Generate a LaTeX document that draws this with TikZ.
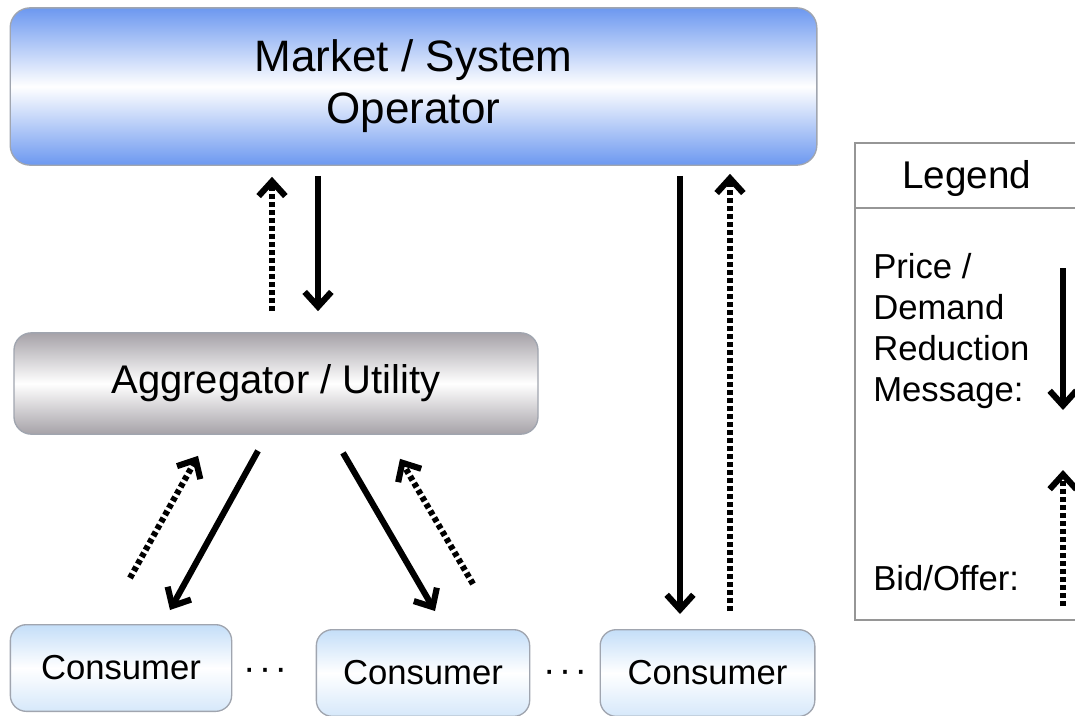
\documentclass[tikz,border=0pt]{standalone}
\usepackage{fontspec}
\setmainfont{Liberation Sans}
\usetikzlibrary{arrows.meta,calc}

\definecolor{opblue}{RGB}{108,152,240}
\definecolor{agggray}{RGB}{166,162,168}
\definecolor{conblue}{RGB}{196,222,248}
\definecolor{boxline}{RGB}{160,165,175}
\definecolor{legline}{RGB}{150,150,150}

\tikzset{
  box/.style={draw=boxline, line width=1pt, rounded corners=15pt, inner sep=0pt, align=center},
  opbox/.style={box, top color=opblue, bottom color=opblue, middle color=white,
    minimum width=605pt, minimum height=118pt, font=\fontsize{33}{39}\selectfont},
  aggbox/.style={box, top color=agggray, bottom color=agggray, middle color=white,
    minimum width=393pt, minimum height=76pt, rounded corners=13pt, font=\fontsize{30}{36}\selectfont},
  conbox/.style={box, top color=conblue, bottom color=conblue!70, middle color=white,
    rounded corners=12pt, minimum height=65pt, font=\fontsize{26}{31}\selectfont},
  tip/.style={-{Straight Barb[length=11pt,width=20pt,line width=4.6pt]}},
  msg/.style={tip, line width=4.6pt},
  bid/.style={tip, line width=4.6pt, dash pattern=on 3.6pt off 2.4pt},
  legtext/.style={anchor=west, align=left, inner sep=0pt, font=\fontsize{26}{30.75}\selectfont},
  ellip/.style={inner sep=0pt, font=\fontsize{28}{30}\selectfont},
}

\begin{document}
\begin{tikzpicture}[x=0.75pt, y=-0.75pt]
\useasboundingbox (0,0) rectangle (1075,715);

% main boxes
\node[opbox] (market) at (413.5,86.5) {Market / System\\Operator};
\node[aggbox] (agg) at (276,383.5) {Aggregator / Utility};
\node[conbox, minimum width=166pt] (c1) at (121,668) {Consumer};
\node[conbox, minimum width=160pt] (c2) at (423,673) {Consumer};
\node[conbox, minimum width=161pt] (c3) at (707.5,673) {Consumer};
\node[ellip] (d1) at (265,674) {·\hspace{2.5pt}·\hspace{2.5pt}·};
\node[ellip] (d2) at (565,676) {·\hspace{2.5pt}·\hspace{2.5pt}·};

% operator <-> aggregator
\draw[bid] ($(agg.north)+(-4,-21)$) -- ($(market.south)+(-141.5,11)$);
\draw[msg] ($(market.south)+(-95.5,10)$) -- ($(agg.north)+(42,-21)$);

% operator <-> directly served consumer
\draw[msg] ($(market.south)+(266.5,10)$) -- ($(c3.north)+(-27.5,-15)$);
\draw[bid] ($(c3.north)+(22.5,-18)$) -- ($(market.south)+(316.5,8)$);

% aggregator <-> consumers
\draw[msg] ($(agg.south)+(-18,16)$) -- ($(c1.north)+(49,-14)$);
\draw[bid] ($(c1.north)+(9,-46)$) -- ($(agg.south)+(-78,21)$);
\draw[msg] ($(agg.south)+(67,18)$) -- ($(c2.north)+(12,-18)$);
\draw[bid] ($(c2.north)+(50,-45)$) -- ($(agg.south)+(124,24)$);

% legend
\draw[legline, line width=1.2pt] (1076,143) -- (855,143) -- (855,620) -- (1076,620);
\draw[legline, line width=1.2pt] (855,208) -- (1076,208);
\node[font=\fontsize{29}{34}\selectfont] (legtitle) at (967,178) {Legend};
\node[legtext] (lmsg) at (873,331) {Price /\\Demand\\Reduction\\Message:};
\node[legtext] (lbid) at (873,578) {Bid/Offer:};
\coordinate (ms) at (1063,268);
\coordinate (me) at (1063,410);
\coordinate (bs) at (1063,606);
\coordinate (be) at (1063,470);
\draw[msg] (ms) -- (me);
\draw[bid] (bs) -- (be);
\end{tikzpicture}
\end{document}
